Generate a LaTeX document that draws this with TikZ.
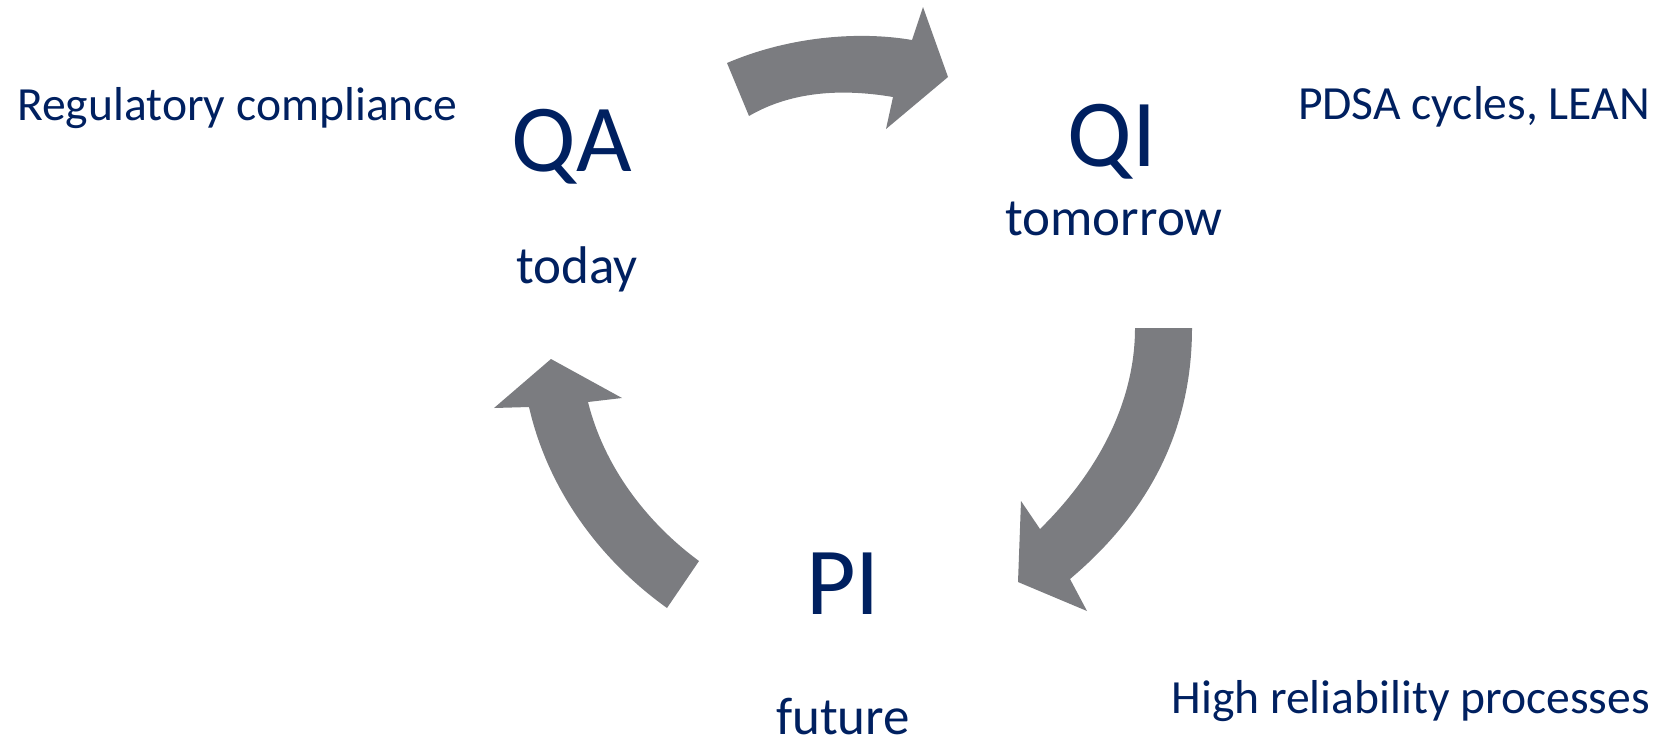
\documentclass[tikz,border=0pt]{standalone}
\usepackage{fontspec}
\setmainfont{Carlito}
\definecolor{navy}{RGB}{0,32,96}
\definecolor{arrowgray}{RGB}{123,124,128}
\begin{document}
\begin{tikzpicture}[x=1pt,y=-1pt,
  lbl/.style={inner sep=0pt,anchor=base,text=navy},
  big/.style={lbl,font=\fontsize{96}{100}\selectfont},
  sub/.style={lbl,font=\fontsize{53}{58}\selectfont},
  note/.style={lbl,font=\fontsize{47.6}{52}\selectfont},
  curvedarrow/.style={fill=arrowgray,draw=none}]
\useasboundingbox (0,0) rectangle (1669,740);

% stage labels
\node[big] (qa) at (572,171) {QA};
\node[sub] (today) at (577,283) {today};
\node[big] (qi) at (1112,166) {QI};
\node[sub] (tomorrow) at (1114,235) {tomorrow};
\node[big] (pi) at (843,614) {PI};
\node[sub] (future) at (843,734) {future};

% side notes
\node[note,anchor=base west] (reg) at (17,120) {Regulatory compliance};
\node[note,anchor=base east] (pdsa) at (1650,119) {PDSA cycles, LEAN};
\node[note,anchor=base east] (hro) at (1650,713) {High reliability processes};

% curved arrow QA -> QI
\path[curvedarrow] (727,63) .. controls (790,36) and (860,31) .. (912,40)
  -- (923,7) -- (948,77) -- (886,129) -- (893,97)
  .. controls (840,88) and (790,92) .. (749,116) -- cycle;

% curved arrow QI -> PI
\path[curvedarrow] (1192,328) .. controls (1192,440) and (1140,520) .. (1070,579)
  -- (1087,611) -- (1018,582) -- (1021,501) -- (1040,529)
  .. controls (1100,470) and (1135,400) .. (1135,328) -- cycle;

% curved arrow PI -> QA
\path[curvedarrow] (667,608) .. controls (600,560) and (548,490) .. (529,407)
  -- (494,408) -- (551,359) -- (622,398) -- (588,402)
  .. controls (605,470) and (650,525) .. (699,561) -- cycle;
\end{tikzpicture}
\end{document}
